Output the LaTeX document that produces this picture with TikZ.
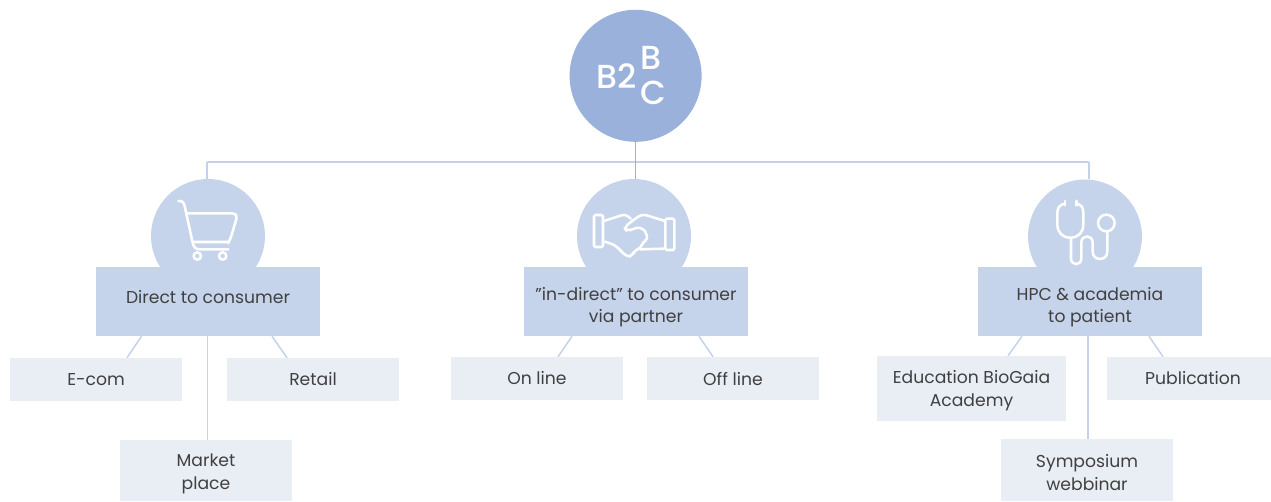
\documentclass[tikz,border=0pt]{standalone}
\usepackage{fontspec}
\setmainfont{Poppins}
\newfontfamily\rootfont{Poppins Medium}
\usetikzlibrary{calc}
\definecolor{rootblue}{HTML}{9AB1DB}
\definecolor{groupblue}{HTML}{C6D4EB}
\definecolor{leafgrey}{HTML}{E9EDF4}
\definecolor{linkblue}{HTML}{C3D1EA}
\definecolor{labelgrey}{HTML}{404040}
\newcommand{\pushdown}[1]{\rule{0pt}{#1}}
\newcommand{\pushup}[1]{\rule[-#1]{0pt}{0pt}}
\tikzset{%
        rootnode/.style={circle, fill=rootblue, minimum size=99pt, inner sep=0pt},
        roottext/.style={text=white, inner sep=0pt, font=\rootfont\fontsize{25}{25}\selectfont},
        iconcircle/.style={circle, fill=groupblue, minimum size=85.5pt, inner sep=0pt},
        groupbox/.style={fill=groupblue, text=labelgrey, minimum width=168pt, minimum height=51.75pt,
            inner sep=0pt, align=center, font=\fontsize{12.9}{16.5}\selectfont},
        leafbox/.style={fill=leafgrey, text=labelgrey, minimum width=129pt, inner sep=0pt,
            align=center, font=\fontsize{12.9}{17.4}\selectfont},
        link/.style={draw=linkblue, line width=1.1pt},
        icon/.style={draw=white, line width=1.9pt, line cap=round, line join=round}
}

\begin{document}
\begin{tikzpicture}[x=0.75pt,y=-0.75pt]
            \useasboundingbox (0,0) rectangle (1271,501);
            % top circle
            \node[rootnode] (root) at (635.6,75.8) {};
            \node[roottext] (rootbtwo) at (617,76) {B2};
            \node[roottext] (rootb) at (651,58) {B};
            \node[roottext] (rootc) at (653,93) {C};
            % circles behind the group boxes
            \node[iconcircle] (cart) at (208,236) {};
            \node[iconcircle] (hands) at (634,236) {};
            \node[iconcircle] (steth) at (1085,236.5) {};
            % group boxes
            \node[groupbox] (direct) at (208,301.5) {Direct to consumer\pushup{7.5pt}};
            \node[groupbox] (indirect) at (636,301.5) {\pushdown{18pt}"in-direct" to consumer\\via partner};
            \node[groupbox] (hpc) at (1090,301.5) {\pushdown{18pt}HPC \& academia\\to patient};
            % leaf boxes
            \node[leafbox, minimum height=32.25pt] (ecom) at (96,379.5) {E-com};
            \node[leafbox, minimum height=32.25pt] (retail) at (313,379.5) {Retail};
            \node[leafbox, minimum height=45.75pt] (market) at (206,470.5) {\pushdown{15pt}Market\\place};
            \node[leafbox, minimum height=32.25pt] (online) at (537,378.5) {On line};
            \node[leafbox, minimum height=32.25pt] (offline) at (733,378.5) {Off line};
            \node[leafbox, minimum width=141.75pt, minimum height=48.75pt] (education) at (971.5,388.5) {\pushdown{13pt}Education BioGaia\\Academy};
            \node[leafbox, minimum width=123pt, minimum height=32.25pt] (publication) at (1189,378.5) {\hspace{6pt}Publication};
            \node[leafbox, minimum height=46.5pt] (symposium) at (1087,470) {\pushdown{13pt}Symposium\\webbinar};
            % bus
            \coordinate (busleft) at (207,162);
            \coordinate (busright) at (1089,162);
            \draw[link, line width=1.2pt] (busleft) -- (busright);
            \draw[draw=rootblue, line width=0.8pt] (root.south) -- (root.south |- hands.north);
            \draw[link, line width=1.2pt] (busleft) -- (busleft |- cart.north);
            \draw[link, line width=1.2pt] (busright) -- (busright |- steth.north);
            % links to the leaf boxes
            \path[link]
            ($(direct.south)+(-66.5,0)$) edge ($(ecom.north)+(31,0)$)
            ($(direct.south)+(64,0)$) edge ($(retail.north)+(-26,0)$)
            (direct.south -| market.north) ++(1.5,0) edge ($(market.north)+(1.5,0)$)
            ($(indirect.south)+(-64,0)$) edge ($(online.north)+(21,0)$)
            ($(indirect.south)+(63,0)$) edge ($(offline.north)+(-20,0)$)
            ($(hpc.south)+(-68,0)$) edge ($(education.north)+(36.5,0)$)
            ($(hpc.south)+(59,0)$) edge ($(publication.north)+(-26,0)$)
            ($(hpc.south)+(-2,0)$) edge ($(symposium.north)+(1,0)$)
            ;
            % cart icon
            \begin{scope}[shift={(140,170)},scale=1/3]
                \draw[icon] (115,93) .. controls (125,92) and (131,95) .. (134,108)
                    -- (158,218) .. controls (161,232) and (167,238) .. (180,238) -- (265,238);
                \draw[icon, rounded corners=4pt] (140,130) -- (294,130) -- (272,205)
                    .. controls (268,213) and (260,216) .. (250,216) -- (161,216);
                \draw[icon] (172,258) circle (11);
                \draw[icon] (248,258) circle (11);
            \end{scope}
            % handshake icon
            \begin{scope}[shift={(565,170)},scale=1/3]
                \draw[icon, rounded corners=1pt] (87,135) rectangle (114,231);
                \draw[icon, rounded corners=1pt] (301,146) rectangle (328,240);
                \draw[icon, rounded corners=3pt] (120,152) -- (182,132) -- (197,146);
                \draw[icon, rounded corners=3pt] (120,215) -- (150,225) -- (185,260) -- (203,258) -- (208,240)
                    -- (228,236) -- (232,216) -- (250,208) -- (240,183);
                \draw[icon, rounded corners=3pt] (297,152) -- (232,132) -- (205,150) -- (178,172) -- (185,184) -- (225,170) -- (240,183);
                \draw[icon, rounded corners=3pt] (297,236) -- (226,238);
            \end{scope}
            % stethoscope icon
            \begin{scope}[shift={(1020,170)},scale=1/3]
                \draw[icon] (135,93) -- (135,106);
                \draw[icon] (170,93) -- (170,106);
                \draw[icon] (135,101) .. controls (120,104) and (112,112) .. (112,128) -- (112,163)
                    .. controls (112,188) and (128,203) .. (151,203)
                    .. controls (174,203) and (190,188) .. (190,163) -- (190,128)
                    .. controls (190,112) and (184,104) .. (170,101);
                \draw[icon] (153,203) -- (153,265) .. controls (153,288) and (184,288) .. (184,265)
                    -- (184,218) .. controls (184,193) and (218,193) .. (218,218)
                    -- (218,245) .. controls (218,274) and (262,274) .. (262,245) -- (262,184);
                \draw[icon] (259,159) circle (25);
            \end{scope}
        \end{tikzpicture}
\end{document}
